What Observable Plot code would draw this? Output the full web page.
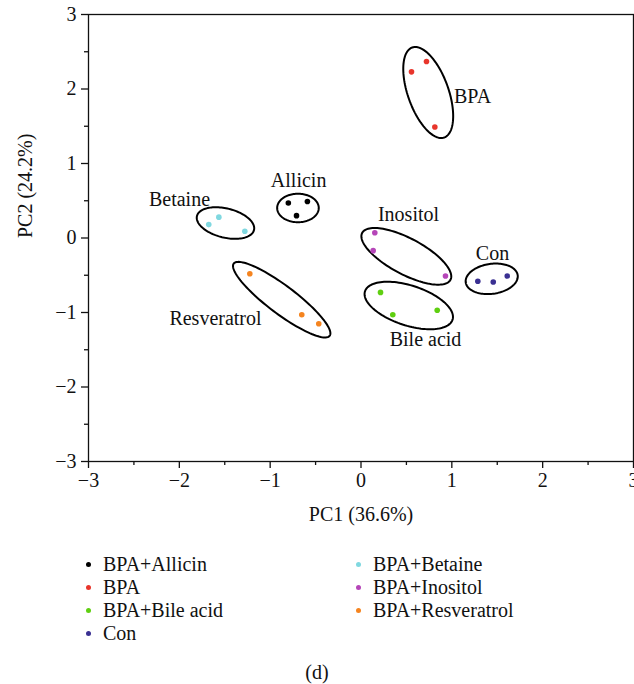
<!DOCTYPE html>
<html>
<head>
<meta charset="utf-8">
<script src="https://cdn.jsdelivr.net/npm/d3@7"></script>
<script src="https://cdn.jsdelivr.net/npm/@observablehq/plot@0.6"></script>
<style>
  html, body { margin: 0; padding: 0; background: #fff; width: 634px; overflow: hidden; }
  #chart svg { display: block; }
  .legend { display: grid; grid-template-columns: 270px 270px; grid-template-rows: repeat(4, 23px);
            grid-auto-flow: column; margin: 13px 0 0 86px; font-family: "Liberation Serif", serif; font-size: 20px; color: #111; }
  .item { display: flex; align-items: center; height: 23px; white-space: nowrap; }
  .dot { width: 5px; height: 5px; border-radius: 50%; margin-right: 12px; flex: none; }
  .caption { text-align: center; font-family: "Liberation Serif", serif; font-size: 20px; line-height: 23px; margin-top: 16px; color: #111; }
</style>
</head>
<body>
<div id="chart"></div>
<script>
// Groups and colours (legend order, column-wise)
const groups = ["BPA+Allicin", "BPA", "BPA+Bile acid", "Con", "BPA+Betaine", "BPA+Inositol", "BPA+Resveratrol"];
const groupColors = ["#000000", "#e8352b", "#5fcf11", "#3a3092", "#80d8e0", "#b545b8", "#f5841f"];

// Samples (PC1, PC2 scores)
const sampleGroup = [
  "BPA", "BPA", "BPA",
  "BPA+Allicin", "BPA+Allicin", "BPA+Allicin",
  "BPA+Betaine", "BPA+Betaine", "BPA+Betaine",
  "BPA+Resveratrol", "BPA+Resveratrol", "BPA+Resveratrol",
  "BPA+Inositol", "BPA+Inositol", "BPA+Inositol",
  "BPA+Bile acid", "BPA+Bile acid", "BPA+Bile acid",
  "Con", "Con", "Con"
];
const samplePC1 = [0.556, 0.721, 0.813, -0.80, -0.59, -0.71, -1.565, -1.676, -1.279, -1.224, -0.652, -0.465, 0.152, 0.134, 0.930, 0.215, 0.350, 0.839, 1.286, 1.456, 1.610];
const samplePC2 = [2.23, 2.37, 1.49, 0.47, 0.49, 0.30, 0.28, 0.18, 0.09, -0.48, -1.03, -1.15, 0.07, -0.17, -0.51, -0.73, -1.03, -0.97, -0.58, -0.59, -0.51];

// Group ellipses: centre and two conjugate semi-axis vectors (data units)
const ellipseGroup = ["BPA", "BPA+Allicin", "BPA+Betaine", "BPA+Resveratrol", "BPA+Inositol", "BPA+Bile acid", "Con"];
const ellipseCX = [0.740, -0.694, -1.492, -0.873, 0.499, 0.526, 1.439];
const ellipseCY = [1.953, 0.403, 0.201, -0.828, -0.246, -0.906, -0.548];
const ellipseU = [[0.176, -0.604], [0.229, 0], [0.314, -0.094], [0.528, -0.485], [0.486, -0.315], [0.482, -0.191], [0.286, 0.049]];
const ellipseV = [[0.211, 0.091], [0, -0.191], [-0.038, -0.190], [-0.093, -0.150], [-0.093, -0.213], [-0.068, -0.255], [0.023, -0.199]];

// Group labels on the chart
const labelText = ["BPA", "Allicin", "Betaine", "Resveratrol", "Inositol", "Con", "Bile acid"];
const labelX = [1.228, -0.687, -1.998, -1.602, 0.523, 1.448, 0.710];
const labelY = [1.90, 0.77, 0.52, -1.08, 0.315, -0.21, -1.36];

// Axis ticks
const majorTicks = [-3, -2, -1, 0, 1, 2, 3];
const minorTicks = [-2.5, -1.5, -0.5, 0.5, 1.5, 2.5];

const xLabel = "PC1 (36.6%)";
const yLabel = "PC2 (24.2%)";
const caption = "(d)";

const samples = sampleGroup.map((g, i) => ({group: g, pc1: samplePC1[i], pc2: samplePC2[i]}));
const ellipsePts = [];
ellipseGroup.forEach((g, i) => {
  const n = 120;
  for (let k = 0; k <= n; k++) {
    const t = 2 * Math.PI * k / n;
    ellipsePts.push({
      group: g,
      x: ellipseCX[i] + Math.cos(t) * ellipseU[i][0] + Math.sin(t) * ellipseV[i][0],
      y: ellipseCY[i] + Math.cos(t) * ellipseU[i][1] + Math.sin(t) * ellipseV[i][1]
    });
  }
});
const labels = labelText.map((t, i) => ({text: t, x: labelX[i], y: labelY[i]}));
const fmt = d => d < 0 ? "\u2212" + Math.abs(d) : String(d);

const chart = Plot.plot({
  width: 634,
  height: 540,
  marginLeft: 88,
  marginRight: 1,
  marginTop: 14,
  marginBottom: 79,
  style: {fontFamily: "Liberation Serif, serif", fontSize: "20px", color: "#111", background: "#fff", overflow: "visible"},
  x: {domain: [-3, 3], label: null},
  y: {domain: [-3, 3], label: null},
  color: {domain: groups, range: groupColors},
  marks: [
    Plot.frame({stroke: "#111", strokeWidth: 1.3}),
    Plot.axisX({ticks: majorTicks, tickSize: 7, tickPadding: 4, tickFormat: fmt, fontSize: 20, strokeWidth: 1.3, label: null}),
    Plot.axisX({ticks: minorTicks, tickSize: 4, tickFormat: () => "", strokeWidth: 1.3, label: null}),
    Plot.axisY({ticks: majorTicks, tickSize: 7, tickPadding: 5, tickFormat: fmt, fontSize: 20, strokeWidth: 1.3, label: null}),
    Plot.axisY({ticks: minorTicks, tickSize: 4, tickFormat: () => "", strokeWidth: 1.3, label: null}),
    Plot.line(ellipsePts, {x: "x", y: "y", z: "group", stroke: "#000", strokeWidth: 2, curve: "linear-closed"}),
    Plot.dot(samples, {x: "pc1", y: "pc2", fill: "group", r: 2.8, stroke: null}),
    Plot.text(labels, {x: "x", y: "y", text: "text", fontSize: 20, fill: "#111"}),
    Plot.text([xLabel], {frameAnchor: "bottom", dy: 59, fontSize: 20, fill: "#111"}),
    Plot.text([yLabel], {frameAnchor: "left", dx: -63, rotate: -90, fontSize: 20, fill: "#111"})
  ]
});
document.getElementById("chart").appendChild(chart);

// Legend (HTML, built from the group arrays)
const legend = document.createElement("div");
legend.className = "legend";
groups.forEach((g, i) => {
  const item = document.createElement("div");
  item.className = "item";
  const dot = document.createElement("span");
  dot.className = "dot";
  dot.style.background = groupColors[i];
  const txt = document.createElement("span");
  txt.textContent = g;
  item.appendChild(dot);
  item.appendChild(txt);
  legend.appendChild(item);
});
document.body.appendChild(legend);
const cap = document.createElement("div");
cap.className = "caption";
cap.textContent = caption;
document.body.appendChild(cap);
</script>
</body>
</html>
